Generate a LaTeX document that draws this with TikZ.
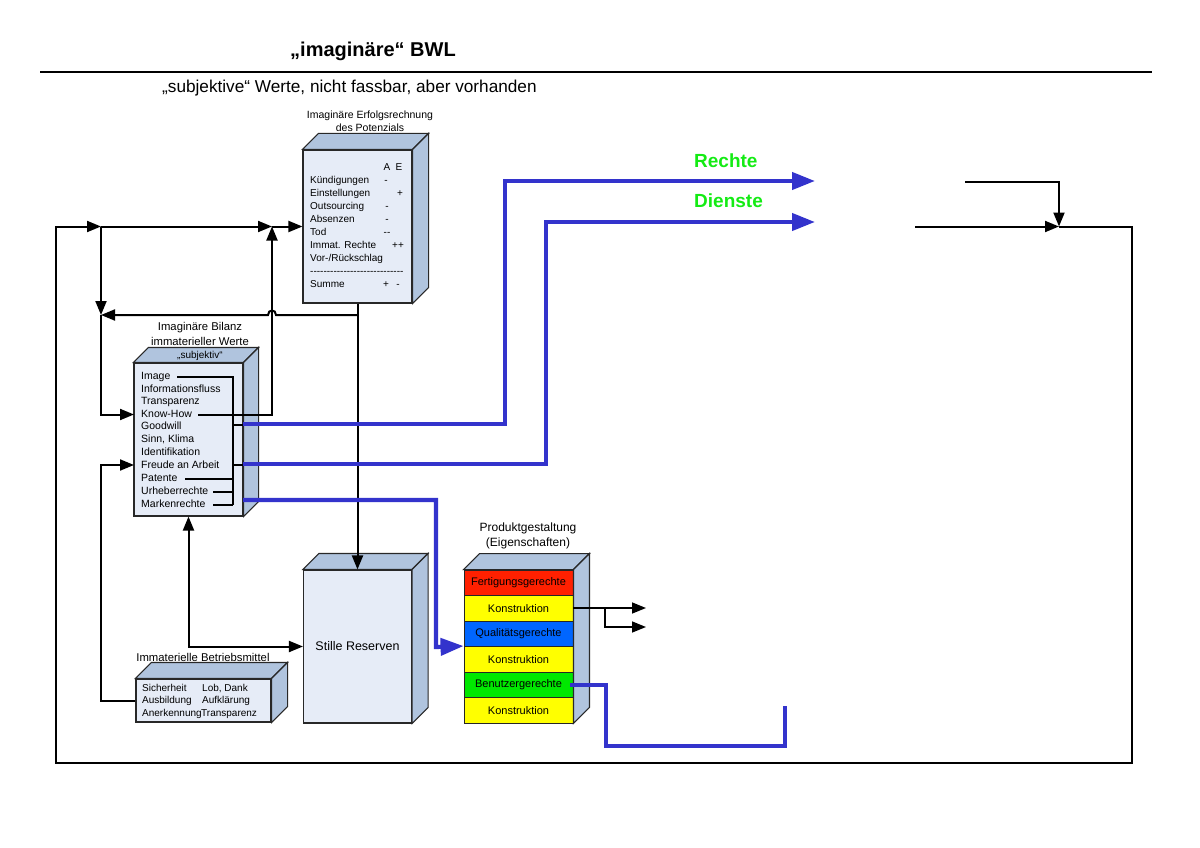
\documentclass[tikz,border=0pt]{standalone}
\usepackage{fontspec}
\setmainfont{Liberation Sans}
\usetikzlibrary{arrows.meta}
\definecolor{frontc}{RGB}{230,236,247}
\definecolor{sidec}{RGB}{176,196,222}
\definecolor{edgec}{RGB}{40,40,40}
\definecolor{bluel}{RGB}{51,51,204}
\definecolor{greenl}{RGB}{20,235,20}
\definecolor{redc}{RGB}{255,32,0}
\definecolor{yelc}{RGB}{255,255,0}
\definecolor{bluec}{RGB}{0,102,255}
\definecolor{grnc}{RGB}{0,232,0}
\newcommand\cubefaces[4]{%
  \draw[face] (#1) -- ++(#4,-#4) -- ([shift={(#4,-#4)}]#2) -- (#2) -- cycle;
  \draw[face] (#2) -- ([shift={(#4,-#4)}]#2) -- ([shift={(#4,-#4)}]#3) -- (#3) -- cycle;}
\begin{document}
\begin{tikzpicture}[x=1pt,y=-1pt,
  front/.style={draw=edgec, line width=1.1pt, fill=frontc, inner sep=0pt},
  face/.style={draw=edgec, line width=1.1pt, fill=sidec},
  prow/.style={draw=black!85, line width=0.9pt, inner sep=0pt, minimum width=109pt, minimum height=25.5pt, font=\fontsize{11}{13}\selectfont},
  conn/.style={line width=2pt, black},
  arr/.style={conn, -{Triangle[length=14pt,width=11pt]}},
  bluepath/.style={line width=4.2pt, bluel},
  bluearr/.style={bluepath, -{Triangle[length=23pt,width=17pt]}},
  txt/.style={font=\fontsize{10}{12}\selectfont, inner sep=0pt, text height=7.3pt, text depth=2.1pt},
  btxt/.style={font=\fontsize{10.5}{12}\selectfont, inner sep=0pt, anchor=west, text height=7.6pt, text depth=2.2pt},
  lab/.style={font=\fontsize{11.3}{15}\selectfont, inner sep=0pt, align=center},
  green/.style={font=\bfseries\fontsize{19}{22}\selectfont, text=greenl, inner sep=0pt, anchor=west}
  ]
\useasboundingbox (0,0) rectangle (1200,848);

% title
\node[font=\bfseries\fontsize{20}{23}\selectfont, inner sep=0pt, anchor=west] (title) at (290,51) {„imaginäre“ BWL};
\coordinate (rl) at (40,72);
\coordinate (rr) at (1152,72);
\draw[line width=1.3pt] (rl) -- (rr);
\node[font=\fontsize{17.2}{20}\selectfont, inner sep=0pt, anchor=west] (sub) at (162,88) {„subjektive“ Werte, nicht fassbar, aber vorhanden};

% box 1: Erfolgsrechnung
\node[front, minimum width=109pt, minimum height=153pt] (erf) at (357.5,226.5) {};
\cubefaces{erf.north west}{erf.north east}{erf.south east}{16}
\node[lab, font=\fontsize{10.5}{13}\selectfont] (erflab) at (370,121.5) {Imaginäre Erfolgsrechnung\\des Potenzials};
\node[txt] (ca) at (387,168) {A};
\node[txt] (ce) at (399,168) {E};
\node[txt, anchor=west] (e1) at (310,181) {Kündigungen};
\node[txt] (v1) at (386,181) {-};
\node[txt, anchor=west] (e2) at (310,194) {Einstellungen};
\node[txt] (v2) at (400,194) {+};
\node[txt, anchor=west] (e3) at (310,207) {Outsourcing};
\node[txt] (v3) at (387,207) {-};
\node[txt, anchor=west] (e4) at (310,220) {Absenzen};
\node[txt] (v4) at (387,220) {-};
\node[txt, anchor=west] (e5) at (310,233) {Tod};
\node[txt] (v5) at (387,233) {-\kern0pt-};
\node[txt, anchor=west] (e6) at (310,246) {Immat. Rechte};
\node[txt] (v6) at (398,246) {++};
\node[txt, anchor=west] (e7) at (310,259) {Vor-/Rückschlag};
\node[txt, anchor=west] (e8) at (310,272) {\foreach \i in {1,...,28}{-\kern0pt}};
\node[txt, anchor=west] (e9) at (310,285) {Summe};
\node[txt] (v9a) at (386,285) {+};
\node[txt] (v9b) at (398,285) {-};

% box 2: Bilanz
\node[front, minimum width=109pt, minimum height=153pt] (bil) at (188.5,439.5) {};
\cubefaces{bil.north west}{bil.north east}{bil.south east}{15}
\node[lab] (billab) at (200,333.5) {Imaginäre Bilanz\\immaterieller Werte};
\node[txt] (subj) at (200,356) {„subjektiv“};
\node[btxt] (b1) at (141,377) {Image};
\node[btxt] (b2) at (141,389.5) {Informationsfluss};
\node[btxt] (b3) at (141,402) {Transparenz};
\node[btxt] (b4) at (141,414.5) {Know-How};
\node[btxt] (b5) at (141,427) {Goodwill};
\node[btxt] (b6) at (141,440) {Sinn, Klima};
\node[btxt] (b7) at (141,453) {Identifikation};
\node[btxt] (b8) at (141,466) {Freude an Arbeit};
\node[btxt] (b9) at (141,479) {Patente};
\node[btxt] (b10) at (141,492) {Urheberrechte};
\node[btxt] (b11) at (141,505) {Markenrechte};

% box 3: Betriebsmittel
\node[front, minimum width=135pt, minimum height=43pt] (bm) at (203.5,700.5) {};
\cubefaces{bm.north west}{bm.north east}{bm.south east}{16}
\node[lab] (bmlab) at (203,657) {Immaterielle Betriebsmittel};
\node[txt, anchor=west] (m1) at (142,689) {Sicherheit};
\node[txt, anchor=west] (m2) at (142,701) {Ausbildung};
\node[txt, anchor=west] (m3) at (142,714) {Anerkennung};
\node[txt, anchor=west] (m4) at (202,689) {Lob, Dank};
\node[txt, anchor=west] (m5) at (202,701) {Aufklärung};
\node[txt, anchor=west] (m6) at (201,714) {Transparenz};

% box 4: Stille Reserven
\node[front, minimum width=108pt, minimum height=153pt] (stille) at (357.5,646.5) {};
\cubefaces{stille.north west}{stille.north east}{stille.south east}{16}
\node[font=\fontsize{12.5}{14}\selectfont, inner sep=0pt] (stxt) at (stille.center) {Stille Reserven};

% Produktgestaltung stack
\node[lab, font=\fontsize{12}{15}\selectfont] (plab) at (528,535.5) {Produktgestaltung\\(Eigenschaften)};
\node[prow, fill=redc] (p1) at (518.5,582.75) {Fertigungsgerechte};
\node[prow, fill=yelc] (p2) at (518.5,608.25) {Konstruktion};
\node[prow, fill=bluec] (p3) at (518.5,633.75) {Qualitätsgerechte};
\node[prow, fill=yelc] (p4) at (518.5,659.25) {Konstruktion};
\node[prow, fill=grnc] (p5) at (518.5,684.75) {Benutzergerechte};
\node[prow, fill=yelc] (p6) at (518.5,710.25) {Konstruktion};
\cubefaces{p1.north west}{p1.north east}{p6.south east}{16}

% coordinates
\coordinate (c56t) at (56,226.5);
\coordinate (c101t) at (101,226.5);
\coordinate (c272t) at (272,226.5);
\coordinate (c101m) at (101,315);
\coordinate (c357m) at (357.5,315);
\coordinate (hopr) at (276,315);
\coordinate (hopl) at (268,315);
\coordinate (kh) at (134,414.5);
\coordinate (khl) at (101,414.5);
\coordinate (khs) at (198,414.5);
\coordinate (khr) at (272,414.5);
\coordinate (fr) at (134,465);
\coordinate (frl) at (101,465);
\coordinate (bml) at (101,700.5);
\coordinate (r1) at (965,182);
\coordinate (r2) at (1059,182);
\coordinate (r3) at (1059,226.5);
\coordinate (r4) at (915,226.5);
\coordinate (o1) at (1132,226.5);
\coordinate (o2) at (1132,763);
\coordinate (o3) at (56,763);

% black connectors
\draw[arr] (r1) -- (r2) -- (r3);
\draw[arr] (r4) -- (r3);
\draw[arr] (r3) -- (o1) -- (o2) -- (o3) -- (c56t) -- (c101t);
\draw[arr] (c101t) -- (c272t);
\draw[arr] (c272t) -- (erf.west);
\draw[arr] (c101t) -- (c101m);
\draw[arr] (erf.south) -- (stille.north);
\draw[arr] (c357m) -- (hopr) .. controls (276,309) and (268,309) .. (hopl) -- (c101m);
\draw[arr] (c101m) -- (khl) -- (kh);
\draw[arr] (khs) -- (khr) -- (c272t);
\draw[arr] (bm.west) -- (bml) -- (frl) -- (fr);
\draw[conn, {Triangle[length=14pt,width=11pt]}-{Triangle[length=14pt,width=11pt]}] (stille.west) -| (bil.south);

% lines inside Bilanz
\draw[conn] (177,377) -- (233,377) -- (233,505);
\draw[conn] (233,425) -- (243,425);
\draw[conn] (232,465) -- (243,465);
\draw[conn] (185,479) -- (233,479);
\draw[conn] (213,492) -- (233,492);
\draw[conn] (213,505) -- (233,505);

% Produkt arrows
\coordinate (pa) at (573,608);
\coordinate (pb) at (605,608);
\coordinate (pc) at (605,627);
\draw[arr, line width=1.5pt] (pa) -- (646,608);
\draw[arr, line width=1.5pt] (pb) -- (pc) -- (646,627);

% blue paths
\coordinate (g1) at (243,424);
\coordinate (g2) at (505,424);
\coordinate (g3) at (505,181);
\coordinate (g4) at (815,181);
\draw[bluearr] (g1) -- (g2) -- (g3) -- (g4);
\coordinate (d1) at (243,464);
\coordinate (d2) at (546,464);
\coordinate (d3) at (546,222);
\coordinate (d4) at (815,222);
\draw[bluearr] (d1) -- (d2) -- (d3) -- (d4);
\coordinate (k1) at (243,500);
\coordinate (k2) at (436,500);
\coordinate (k3) at (436,647);
\draw[bluearr] (k1) -- (k2) -- (k3) -- (p4.north west);
\coordinate (u1) at (570,685);
\coordinate (u2) at (606,685);
\coordinate (u3) at (606,746);
\coordinate (u4) at (785,746);
\coordinate (u5) at (785,706);
\draw[bluepath] (u1) -- (u2) -- (u3) -- (u4) -- (u5);

\node[green] (rechte) at (694,161) {Rechte};
\node[green] (dienste) at (694,201) {Dienste};
\end{tikzpicture}
\end{document}
